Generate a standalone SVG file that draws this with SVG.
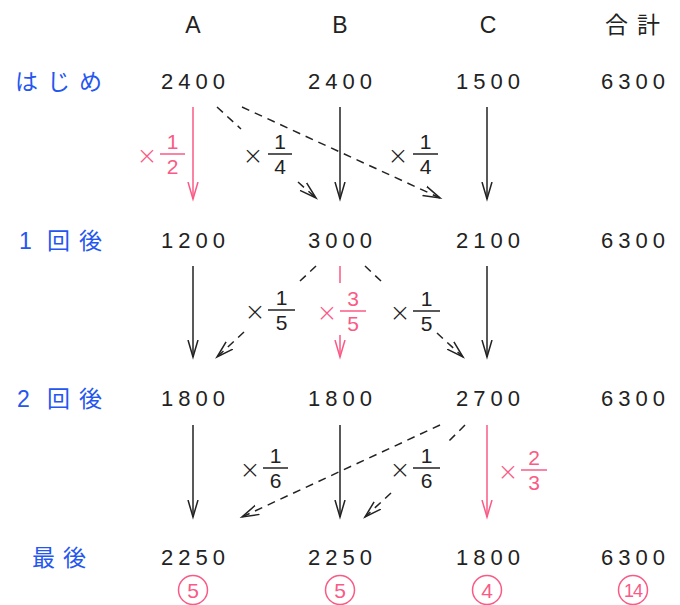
<svg xmlns="http://www.w3.org/2000/svg" width="680" height="605" viewBox="0 0 680 605">
<style>
.num{font-family:"Liberation Sans",Arial,sans-serif;font-size:22px;letter-spacing:5px;fill:#222;text-anchor:middle}
.hdr{font-family:"Liberation Sans","Noto Sans CJK JP",sans-serif;font-size:23px;fill:#222}
.jp{font-family:"Noto Sans CJK JP","Liberation Sans",sans-serif;font-size:23px;fill:#2456f0}
.ln{fill:none;stroke:#222;stroke-width:1.5}
.pk{fill:none;stroke:#fa5a85;stroke-width:1.5}
.ds{stroke-dasharray:8 6}
.lb{font-family:"Liberation Sans",Arial,sans-serif;font-size:21px;fill:#222;text-anchor:middle}
.lbp{font-family:"Liberation Sans",Arial,sans-serif;font-size:21px;fill:#fa5a85;text-anchor:middle}
.tm{font-family:"DejaVu Sans",sans-serif;font-weight:200;font-size:25px}
.bar{stroke:#222;stroke-width:1.5}
.barp{stroke:#fa5a85;stroke-width:1.5}
.cn{font-family:"Liberation Sans",Arial,sans-serif;font-size:21px;fill:#fa5a85;text-anchor:middle}
</style>
<defs>
<marker id="ak" markerUnits="userSpaceOnUse" markerWidth="20" markerHeight="14" refX="17" refY="7" orient="auto" viewBox="0 0 20 14"><path d="M0,2 L17,7 L0,12" fill="none" stroke="#222" stroke-width="1.5" stroke-dasharray="none"/></marker>
<marker id="ap" markerUnits="userSpaceOnUse" markerWidth="20" markerHeight="14" refX="17" refY="7" orient="auto" viewBox="0 0 20 14"><path d="M0,2 L17,7 L0,12" fill="none" stroke="#fa5a85" stroke-width="1.5"/></marker>
</defs>
<rect width="680" height="605" fill="#fff"/>

<g id="header">
<text class="hdr" x="193" y="33" text-anchor="middle">A</text>
<text class="hdr" x="340" y="33" text-anchor="middle">B</text>
<text class="hdr" x="488" y="33" text-anchor="middle">C</text>
<text class="hdr" x="605 637" y="33" style="font-family:'Noto Sans CJK JP',sans-serif;font-size:23px">合計</text>
</g>

<g id="row-labels">
<text class="jp" x="15 47 79" y="90">はじめ</text>
<text class="jp" x="19 47 79" y="249"><tspan style="font-family:'Liberation Sans',sans-serif">1</tspan>回後</text>
<text class="jp" x="17 47 79" y="407"><tspan style="font-family:'Liberation Sans',sans-serif">2</tspan>回後</text>
<text class="jp" x="32 63" y="566">最後</text>
</g>

<g id="row0">
<text class="num" x="195.5" y="89">2400</text>
<text class="num" x="342.5" y="89">2400</text>
<text class="num" x="490.5" y="89">1500</text>
<text class="num" x="635.5" y="89">6300</text>
</g>
<g id="row1">
<text class="num" x="195.5" y="248">1200</text>
<text class="num" x="342.5" y="248">3000</text>
<text class="num" x="490.5" y="248">2100</text>
<text class="num" x="635.5" y="248">6300</text>
</g>
<g id="row2">
<text class="num" x="195.5" y="406">1800</text>
<text class="num" x="342.5" y="406">1800</text>
<text class="num" x="490.5" y="406">2700</text>
<text class="num" x="635.5" y="406">6300</text>
</g>
<g id="row3">
<text class="num" x="195.5" y="565">2250</text>
<text class="num" x="342.5" y="565">2250</text>
<text class="num" x="490.5" y="565">1800</text>
<text class="num" x="635.5" y="565">6300</text>
</g>

<g id="connectors">
<path class="pk" d="M193,107 L193,199" marker-end="url(#ap)"/>
<path class="ln" d="M340,107 L340,199" marker-end="url(#ak)"/>
<path class="ln" d="M487,107 L487,199" marker-end="url(#ak)"/>
<path class="ln ds" d="M217,107 L241,129 M298,182 L316,198" marker-end="url(#ak)"/>
<path class="ln ds" d="M242,107 L440,198" marker-end="url(#ak)"/>
<path class="ln" d="M193,266 L193,357" marker-end="url(#ak)"/>
<path class="pk" d="M340,266 L340,283 M340,335 L340,357" marker-end="url(#ap)"/>
<path class="ln" d="M487,266 L487,357" marker-end="url(#ak)"/>
<path class="ln ds" d="M316,266 L299,282 M244,332 L217,357" marker-end="url(#ak)"/>
<path class="ln ds" d="M365,266 L382,282 M437,333 L463,357" marker-end="url(#ak)"/>
<path class="ln" d="M193,425 L193,517" marker-end="url(#ak)"/>
<path class="ln" d="M340,425 L340,517" marker-end="url(#ak)"/>
<path class="pk" d="M487,425 L487,517" marker-end="url(#ap)"/>
<path class="ln ds" d="M440,425 L242,517" marker-end="url(#ak)"/>
<path class="ln ds" d="M465,425 L447,443 M391,493 L365,517" marker-end="url(#ak)"/>
</g>

<g id="labels">
<g id="l-a-half">
<text class="lbp tm" x="147" y="164">×</text>
<line class="barp" x1="160" y1="154" x2="185" y2="154"/>
<text class="lbp" x="172.5" y="149">1</text>
<text class="lbp" x="172.5" y="174">2</text>
</g>
<g id="l-ab">
<text class="lb tm" x="253" y="164">×</text>
<line class="bar" x1="268" y1="154" x2="292" y2="154"/>
<text class="lb" x="280" y="149">1</text>
<text class="lb" x="280" y="174">4</text>
</g>
<g id="l-ac">
<text class="lb tm" x="398" y="164">×</text>
<line class="bar" x1="413" y1="154" x2="438" y2="154"/>
<text class="lb" x="425.5" y="149">1</text>
<text class="lb" x="425.5" y="174">4</text>
</g>
<g id="l-ba">
<text class="lb tm" x="255" y="320">×</text>
<line class="bar" x1="268" y1="310" x2="295" y2="310"/>
<text class="lb" x="281.5" y="305">1</text>
<text class="lb" x="281.5" y="330">5</text>
</g>
<g id="l-bb">
<text class="lbp tm" x="327" y="321">×</text>
<line class="barp" x1="340" y1="311" x2="366" y2="311"/>
<text class="lbp" x="353" y="306">3</text>
<text class="lbp" x="353" y="331">5</text>
</g>
<g id="l-bc">
<text class="lb tm" x="400" y="321">×</text>
<line class="bar" x1="413" y1="311" x2="440" y2="311"/>
<text class="lb" x="426.5" y="306">1</text>
<text class="lb" x="426.5" y="331">5</text>
</g>
<g id="l-ca">
<text class="lb tm" x="250" y="478">×</text>
<line class="bar" x1="263" y1="468" x2="288" y2="468"/>
<text class="lb" x="275.5" y="463">1</text>
<text class="lb" x="275.5" y="488">6</text>
</g>
<g id="l-cb">
<text class="lb tm" x="400" y="478">×</text>
<line class="bar" x1="413" y1="468" x2="440" y2="468"/>
<text class="lb" x="426.5" y="463">1</text>
<text class="lb" x="426.5" y="488">6</text>
</g>
<g id="l-cc">
<text class="lbp tm" x="508" y="480">×</text>
<line class="barp" x1="521" y1="470" x2="547" y2="470"/>
<text class="lbp" x="534" y="465">2</text>
<text class="lbp" x="534" y="490">3</text>
</g>
</g>

<g id="ratios">
<circle cx="193" cy="590" r="14.5" fill="none" stroke="#fa5a85" stroke-width="1.5"/>
<text class="cn" x="193" y="597.5">5</text>
<circle cx="340" cy="590" r="14.5" fill="none" stroke="#fa5a85" stroke-width="1.5"/>
<text class="cn" x="340" y="597.5">5</text>
<circle cx="487" cy="590" r="14.5" fill="none" stroke="#fa5a85" stroke-width="1.5"/>
<text class="cn" x="487" y="597.5">4</text>
<circle cx="633" cy="590" r="14.5" fill="none" stroke="#fa5a85" stroke-width="1.5"/>
<text class="cn" x="633" y="596.5" style="font-size:18px;letter-spacing:-1px">14</text>
</g>
</svg>
